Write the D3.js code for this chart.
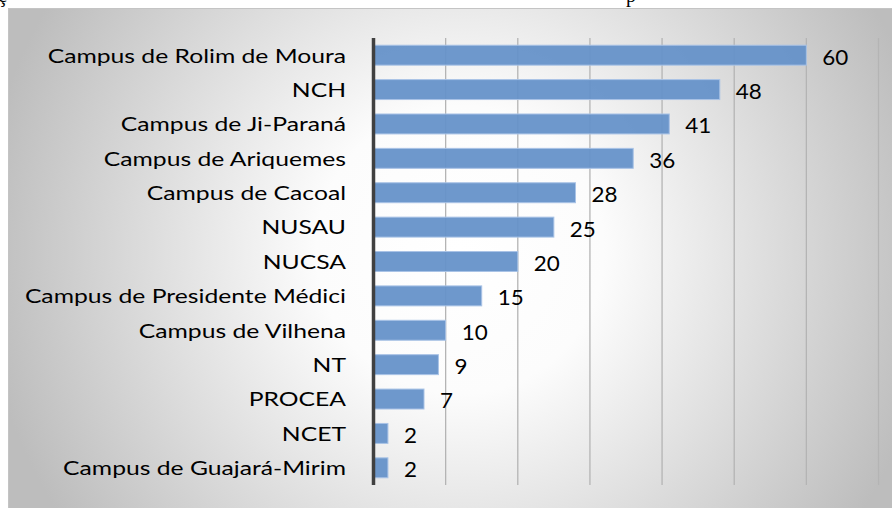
<!DOCTYPE html>
<html><head><meta charset="utf-8">
<script src="https://cdn.jsdelivr.net/npm/d3@7"></script>
<style>html,body{margin:0;padding:0;background:#fff;overflow:hidden}</style>
</head><body>
<script>
const categories = ["Campus de Rolim de Moura","NCH","Campus de Ji-Paraná","Campus de Ariquemes","Campus de Cacoal","NUSAU","NUCSA","Campus de Presidente Médici","Campus de Vilhena","NT","PROCEA","NCET","Campus de Guajará-Mirim"];
const values = [60,48,41,36,28,25,20,15,10,9,7,2,2];
const xTicks = [0,10,20,30,40,50,60,70];

const W = 892, H = 508;
const svg = d3.select("body").append("svg").attr("width",W).attr("height",H);
const defs = svg.append("defs");
const rg = defs.append("radialGradient").attr("id","bg").attr("gradientUnits","userSpaceOnUse")
  .attr("cx",460).attr("cy",250).attr("r",480);
rg.append("stop").attr("offset","0").attr("stop-color","#ffffff");
rg.append("stop").attr("offset","0.3").attr("stop-color","#fcfcfc");
rg.append("stop").attr("offset","1").attr("stop-color","#bdbdbd");

// cut-off text from the page above
svg.append("text").attr("x",-2).attr("y",2).attr("font-family","Liberation Serif").attr("font-size",20).text("ç");
svg.append("text").attr("x",626).attr("y",2).attr("font-family","Liberation Serif").attr("font-size",20).text("p");

svg.append("rect").attr("x",8.5).attr("y",8.5).attr("width",W).attr("height",H)
  .attr("fill","url(#bg)").attr("stroke","#c4c4c4").attr("stroke-width",1);

const x = d3.scaleLinear().domain([0,70]).range([373.5,878.5]);
const y = d3.scaleBand().domain(categories).range([38,485]).paddingInner(0.42).paddingOuter(0.21);

// gridlines
svg.append("g").selectAll("line").data(xTicks.slice(1)).join("line")
  .attr("x1",d=>x(d)).attr("x2",d=>x(d)).attr("y1",38).attr("y2",485)
  .attr("stroke","#b4b4b4").attr("stroke-width",1.3);

// bars
svg.append("g").selectAll("rect").data(values).join("rect")
  .attr("x",x(0)).attr("y",(d,i)=>y(categories[i]))
  .attr("width",d=>x(d)-x(0)).attr("height",y.bandwidth())
  .attr("fill","#6592c9").attr("fill-opacity",0.94)
  .attr("stroke","#a9c3e6").attr("stroke-width",1);

// axis line
svg.append("line").attr("x1",x(0)).attr("x2",x(0)).attr("y1",38).attr("y2",485)
  .attr("stroke","#404040").attr("stroke-width",3.5);

const sx = 1.30;
// category labels
svg.append("g").selectAll("text").data(categories).join("text")
  .attr("transform",d=>`translate(346,${y(d)+y.bandwidth()/2}) scale(${sx},1)`)
  .attr("text-anchor","end").attr("dominant-baseline","central")
  .attr("font-family","Lato").attr("font-size",19).attr("fill","#000")
  .text(d=>d);

// value labels
svg.append("g").selectAll("text").data(values).join("text")
  .attr("transform",(d,i)=>`translate(${x(d)+16},${y(categories[i])+y.bandwidth()/2+1}) scale(1.02,1)`)
  .attr("text-anchor","start").attr("dominant-baseline","central")
  .attr("font-family","Lato").attr("font-size",22).attr("fill","#000")
  .text(d=>d);
</script>
</body></html>
